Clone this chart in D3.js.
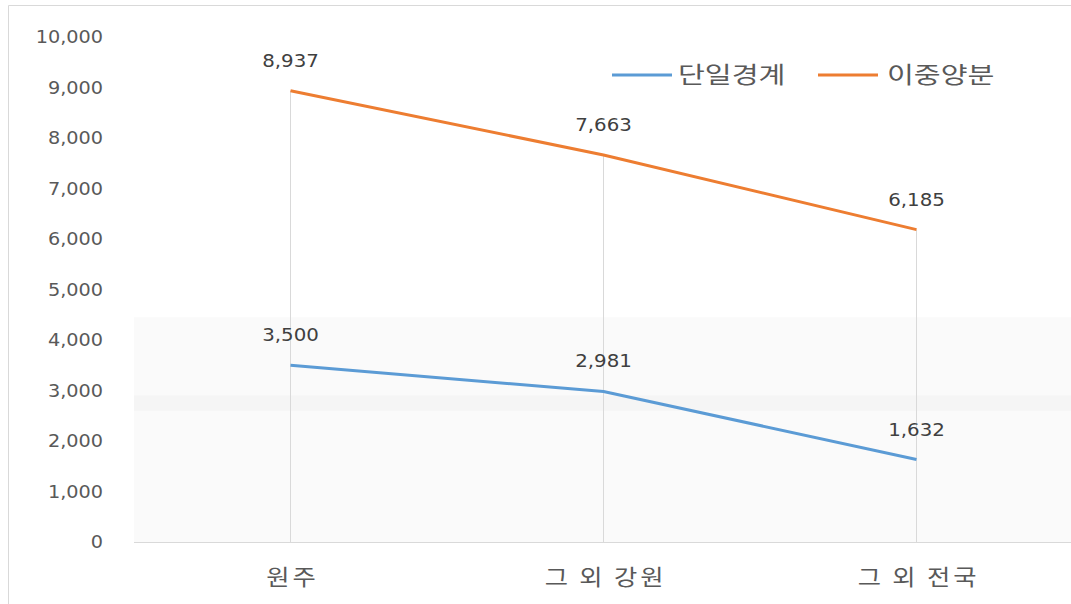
<!DOCTYPE html>
<html>
<head>
<meta charset="utf-8">
<script src="https://cdn.jsdelivr.net/npm/d3@7"></script>
<style>
  html, body { margin: 0; padding: 0; background: #fff; }
  svg { display: block; font-family: "Noto Sans CJK KR", "Noto Sans", sans-serif; }
</style>
</head>
<body>
<svg id="chart" width="1071" height="604"></svg>
<script>
const categories = ["원주", "그 외 강원", "그 외 전국"];
const seriesNames = ["단일경계", "이중양분"];
const singleBoundary = [3500, 2981, 1632];
const dualSplit = [8937, 7663, 6185];
const yTicks = [0, 1000, 2000, 3000, 4000, 5000, 6000, 7000, 8000, 9000, 10000];
const colors = ["#5b9bd5", "#ed7d31"];

const series = [
  { name: seriesNames[0], values: singleBoundary, color: colors[0] },
  { name: seriesNames[1], values: dualSplit, color: colors[1] }
];

const numFont = "'DejaVu Sans', Verdana, sans-serif";
const korFont = "'Noto Sans CJK KR', sans-serif";
const fmt = d3.format(",");

const svg = d3.select("#chart");
const W = 1071, H = 604;
const plot = { left: 134, right: 1073, top: 37, bottom: 542 };

// chart frame
svg.append("path")
  .attr("d", `M8.5,${H} V5.5 H${W}`)
  .attr("fill", "none").attr("stroke", "#d9d9d9").attr("stroke-width", 1);

const x = d3.scalePoint().domain(categories).range([plot.left, plot.right]).padding(0.5);
const y = d3.scaleLinear().domain([0, 10000]).range([plot.bottom, plot.top]);

// faint shading in the lower part of the plot area
svg.append("rect")
  .attr("x", plot.left).attr("y", y(4450))
  .attr("width", W - plot.left).attr("height", plot.bottom - y(4450))
  .attr("fill", "#fafafa");
svg.append("rect")
  .attr("x", plot.left).attr("y", y(2900))
  .attr("width", W - plot.left).attr("height", y(2600) - y(2900))
  .attr("fill", "#f2f2f2").attr("opacity", 0.6);

// y axis labels
const yAxis = d3.axisLeft(y).tickValues(yTicks).tickSize(0).tickPadding(0).tickFormat(fmt);
svg.append("g")
  .attr("transform", `translate(103,0)`)
  .call(yAxis)
  .call(g => g.select(".domain").remove())
  .selectAll("text")
  .attr("x", 0)
  .attr("transform", "scale(1.07,1)")
  .attr("font-size", 18).attr("fill", "#595959")
  .attr("font-family", numFont);

// drop lines from the highest point to the axis
svg.append("g").selectAll("line")
  .data(categories)
  .join("line")
  .attr("x1", d => x(d)).attr("x2", d => x(d))
  .attr("y1", (d, i) => y(d3.max(series, s => s.values[i])))
  .attr("y2", plot.bottom)
  .attr("stroke", "#d9d9d9").attr("stroke-width", 1);

// x axis
const xAxis = d3.axisBottom(x).tickSize(0).tickPadding(0);
svg.append("g")
  .attr("transform", `translate(0,${plot.bottom})`)
  .call(xAxis)
  .call(g => g.select(".domain").attr("stroke", "#d9d9d9").attr("d", `M${plot.left},0.5H${W}`))
  .selectAll("text")
  .attr("dy", 0).attr("y", 0).attr("x", 0)
  .attr("transform", "translate(1.5,43) scale(1.15,1)")
  .attr("letter-spacing", 2.5)
  .attr("font-size", 22).attr("fill", "#595959")
  .attr("font-family", korFont);

// series lines
const line = d3.line().x((d, i) => x(categories[i])).y(d => y(d));
svg.append("g").selectAll("path")
  .data(series)
  .join("path")
  .attr("d", s => line(s.values))
  .attr("fill", "none")
  .attr("stroke", s => s.color)
  .attr("stroke-width", 3)
  .attr("stroke-linejoin", "round");

// data labels
series.forEach(s => {
  svg.append("g").selectAll("text")
    .data(s.values)
    .join("text")
    .attr("transform", (d, i) => `translate(${x(categories[i])},${y(d) - 24}) scale(1.1,1)`)
    .attr("text-anchor", "middle")
    .attr("font-size", 18).attr("fill", "#404040")
    .attr("font-family", numFont)
    .text(d => fmt(d));
});

// legend
const legendItems = [
  { x: 612, textX: 678 },
  { x: 818, textX: 887 }
];
const legend = svg.append("g");
series.forEach((s, i) => {
  const it = legendItems[i];
  legend.append("line")
    .attr("x1", it.x).attr("x2", it.x + 60)
    .attr("y1", 75).attr("y2", 75)
    .attr("stroke", s.color).attr("stroke-width", 3);
  legend.append("text")
    .attr("transform", `translate(${it.textX},83) scale(1.27,1)`)
    .attr("font-size", 23).attr("fill", "#595959")
    .attr("font-family", korFont)
    .text(s.name);
});
</script>
</body>
</html>
